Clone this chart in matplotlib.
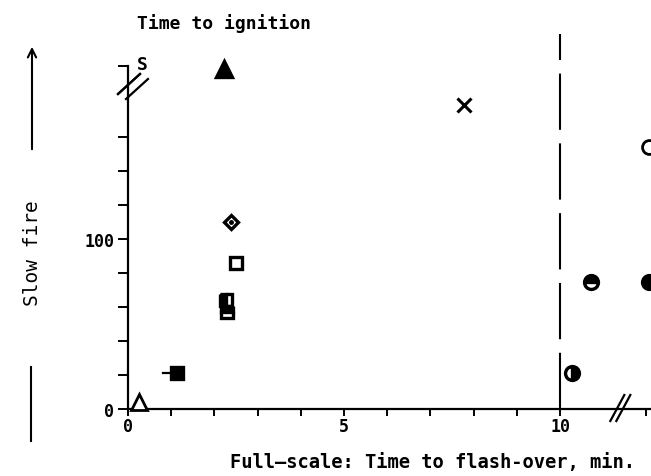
import matplotlib
matplotlib.use("Agg")
import matplotlib.pyplot as plt
from matplotlib.lines import Line2D

# time to flash-over (min) vs time to ignition (s)
flash_min = [0.25, 1.13, 2.22, 2.38, 2.50, 2.27, 2.30, 7.78, 10.28, 10.72, 12.05, 12.05]
ignit_s = [4, 21, 200, 110, 86, 64, 57, 179, 21, 75, 75, 154]
err_left = [0, 0.32, 0, 0, 0, 0, 0, 0, 0, 0, 0, 0]

# marker, size, fillstyle, face for each point
styles = [
    ("^", 11, "none", "white"),
    ("s", 9, "full", "black"),
    ("^", 11, "full", "black"),
    ("D", 7, "full", "white"),
    ("s", 8, "full", "white"),
    ("s", 8, "left", "black"),
    ("s", 8, "top", "black"),
    ("x", 10, "full", "black"),
    ("o", 10, "right", "black"),
    ("o", 10, "top", "black"),
    ("o", 10, "full", "black"),
    ("o", 10, "none", "white"),
]

yticks = [0, 20, 40, 60, 80, 100, 120, 140, 160]
xticks = [0, 1, 2, 3, 4, 5, 6, 7, 8, 9, 10, 12]
xlabels = {0: "0", 5: "5", 10: "10"}
ylabels = {0: "0", 100: "100"}

mono = "DejaVu Sans Mono"
px_x, px_y = 43.2, 1.7  # pixels per data unit

fig = plt.figure(figsize=(6.51, 4.77), dpi=100)
ax = fig.add_axes([128 / 651, 67 / 477, 523 / 651, 375 / 477])
ax.set_xlim(0, 523 / px_x)
ax.set_ylim(0, 375 / px_y)

for s in ["top", "right"]:
    ax.spines[s].set_visible(False)
ax.spines["left"].set_bounds(0, 202)
for s in ["left", "bottom"]:
    ax.spines[s].set_linewidth(1.6)

ax.set_yticks(yticks + [202])
ax.set_yticklabels([ylabels.get(v, "") for v in yticks] + [""])
ax.set_xticks(xticks)
ax.set_xticklabels([xlabels.get(v, "") for v in xticks])
ax.tick_params(axis="y", direction="out", length=7, width=1.4, pad=3)
ax.tick_params(axis="x", direction="out", length=5, width=1.4, pad=1)
for lab in ax.get_xticklabels() + ax.get_yticklabels():
    lab.set_fontfamily(mono)
    lab.set_fontweight("bold")
    lab.set_fontsize(12)

# dashed line at 10 min
ax.axvline(10, color="black", lw=1.5, linestyle=(0, (27, 6.5)), zorder=1)

for x, y, e, (m, ms, fs, fc) in zip(flash_min, ignit_s, err_left, styles):
    if e:
        ax.plot([x - e, x], [y, y], color="black", lw=1.6, clip_on=False)
    kw = dict(marker=m, ms=ms, color="black", mec="black", mew=2.4,
              linestyle="none", clip_on=False, zorder=3)
    if m == "x":
        kw["mew"] = 2.2
    elif fs == "none":
        kw.update(mfc="white", mew=2.0)
    elif fs == "full":
        kw.update(mfc=fc)
    else:
        kw.update(fillstyle=fs, mfc="black", mfcalt="white")
    ax.plot([x], [y], **kw)
    if m == "D":
        ax.plot([x], [y], marker="o", ms=2.5, color="black", linestyle="none", zorder=4)


def slash(xd, yd, p0, p1, shift):
    for k in (0, 1):
        xs = [xd + (p0[0] + k * shift) / px_x, xd + (p1[0] + k * shift) / px_x]
        ys = [yd + p0[1] / px_y, yd + p1[1] / px_y]
        ax.add_line(Line2D(xs, ys, color="black", lw=1.6, clip_on=False))


# axis breaks
slash(0, 190, (-10, -8), (12, 12), 0)
ax.add_line(Line2D([-2 / px_x, -2 / px_x + 22 / px_x], [190 - 13 / px_y, 190 + 7 / px_y],
                   color="black", lw=1.6, clip_on=False))
slash(11.35, 0, (-8, -12), (6, 14), 6)

ax.text(9 / px_x, 203, "S", fontfamily=mono, fontweight="bold", fontsize=13,
        ha="left", va="center")

fig.text(137 / 651, 1 - 24 / 477, "Time to ignition", fontfamily=mono,
         fontweight="bold", fontsize=13, ha="left", va="center")
fig.text(432 / 651, 1 - 463 / 477, "Full\u2014scale: Time to flash-over, min.",
         fontfamily=mono, fontweight="bold", fontsize=13.5, ha="center", va="center")
fig.text(32 / 651, 1 - 253 / 477, "Slow fire", fontfamily=mono, fontsize=14,
         rotation=90, ha="center", va="center")

# arrow beside the y label
fig.add_artist(matplotlib.patches.FancyArrowPatch(
    (32 / 651, 1 - 153 / 477), (32 / 651, 1 - 45 / 477),
    transform=fig.transFigure, arrowstyle="->,head_length=6,head_width=3",
    lw=1.5, color="black"))
fig.add_artist(Line2D([31 / 651, 31 / 651], [1 - 368 / 477, 1 - 442 / 477],
                      transform=fig.transFigure, color="black", lw=1.5))

fig.savefig("out.png", dpi=100)
